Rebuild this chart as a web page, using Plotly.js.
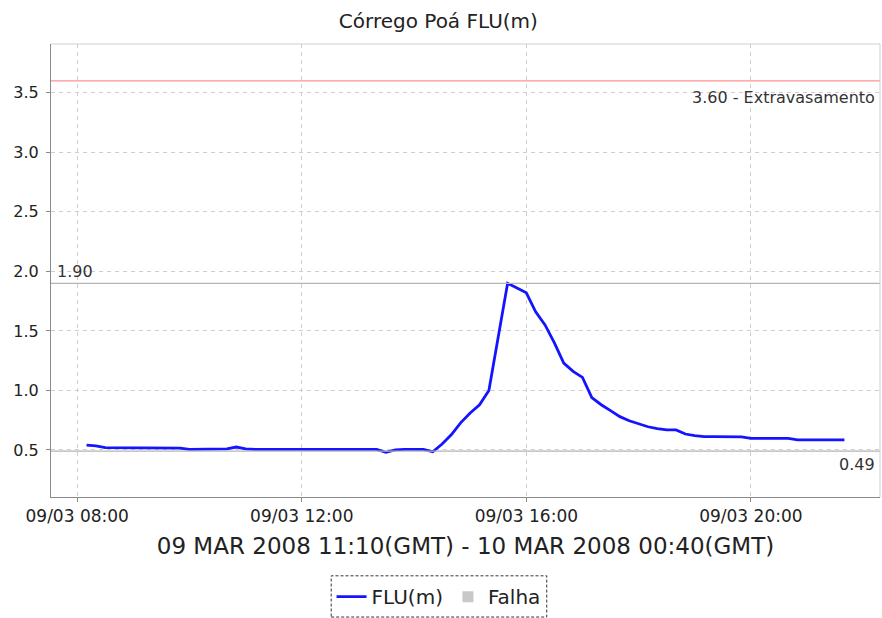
<!DOCTYPE html>
<html>
<head>
<meta charset="utf-8">
<script src="https://cdn.plot.ly/plotly-3.0.1.min.js"></script>
<style>html,body{margin:0;padding:0;background:#fff;}#chart{width:882px;height:618px;}</style>
</head>
<body>
<div id="chart"></div>
<script>
const times = [
"2008-03-09 08:10","2008-03-09 08:20","2008-03-09 08:30","2008-03-09 08:40","2008-03-09 08:50",
"2008-03-09 09:00","2008-03-09 09:10","2008-03-09 09:20","2008-03-09 09:30","2008-03-09 09:40","2008-03-09 09:50",
"2008-03-09 10:00","2008-03-09 10:10","2008-03-09 10:20","2008-03-09 10:30","2008-03-09 10:40","2008-03-09 10:50",
"2008-03-09 11:00","2008-03-09 11:10","2008-03-09 11:20","2008-03-09 11:30","2008-03-09 11:40","2008-03-09 11:50",
"2008-03-09 12:00","2008-03-09 12:10","2008-03-09 12:20","2008-03-09 12:30","2008-03-09 12:40","2008-03-09 12:50",
"2008-03-09 13:00","2008-03-09 13:10","2008-03-09 13:20","2008-03-09 13:30","2008-03-09 13:40","2008-03-09 13:50",
"2008-03-09 14:00","2008-03-09 14:10","2008-03-09 14:20","2008-03-09 14:30","2008-03-09 14:40","2008-03-09 14:50",
"2008-03-09 15:00","2008-03-09 15:10","2008-03-09 15:20","2008-03-09 15:30","2008-03-09 15:40","2008-03-09 15:50",
"2008-03-09 16:00","2008-03-09 16:10","2008-03-09 16:20","2008-03-09 16:30","2008-03-09 16:40","2008-03-09 16:50",
"2008-03-09 17:00","2008-03-09 17:10","2008-03-09 17:20","2008-03-09 17:30","2008-03-09 17:40","2008-03-09 17:50",
"2008-03-09 18:00","2008-03-09 18:10","2008-03-09 18:20","2008-03-09 18:30","2008-03-09 18:40","2008-03-09 18:50",
"2008-03-09 19:00","2008-03-09 19:10","2008-03-09 19:20","2008-03-09 19:30","2008-03-09 19:40","2008-03-09 19:50",
"2008-03-09 20:00","2008-03-09 20:10","2008-03-09 20:20","2008-03-09 20:30","2008-03-09 20:40","2008-03-09 20:50",
"2008-03-09 21:00","2008-03-09 21:10","2008-03-09 21:20","2008-03-09 21:30","2008-03-09 21:40"
];
const fluValues = [
0.54,0.535,0.52,0.52,0.52,
0.52,0.52,0.52,0.52,0.52,0.515,
0.505,0.505,0.505,0.505,0.51,0.525,
0.51,0.505,0.505,0.505,0.505,0.505,
0.505,0.505,0.505,0.505,0.505,0.505,
0.505,0.505,0.505,0.48,0.5,0.505,
0.505,0.505,0.485,0.55,0.63,0.73,
0.81,0.88,1.0,1.45,1.9,1.86,
1.82,1.66,1.55,1.40,1.23,1.16,
1.11,0.94,0.88,0.83,0.78,0.745,
0.72,0.695,0.68,0.668,0.668,0.634,
0.62,0.612,0.612,0.612,0.612,0.61,
0.598,0.598,0.598,0.598,0.598,0.585,
0.584,0.584,0.584,0.584,0.584
];
const seriesNames = ["FLU(m)", "Falha"];
const thresholds = [3.60, 1.90, 0.49];
const thresholdLabels = ["3.60 - Extravasamento", "1.90", "0.49"];
const yTicks = [0.5, 1.0, 1.5, 2.0, 2.5, 3.0, 3.5];
const yTickLabels = ["0.5", "1.0", "1.5", "2.0", "2.5", "3.0", "3.5"];
const chartTitle = "Córrego Poá FLU(m)";
const xAxisTitle = "09 MAR 2008 11:10(GMT) - 10 MAR 2008 00:40(GMT)";

const font = "DejaVu Sans, Arial, sans-serif";

const traces = [
  {
    x: times, y: fluValues, type: "scatter", mode: "lines", name: seriesNames[0],
    line: {color: "#1414ff", width: 2.8}
  },
  {
    x: [null], y: [null], type: "scatter", mode: "markers", name: seriesNames[1],
    marker: {symbol: "square", color: "#c8c8c8", size: 11}
  }
];

const layout = {
  width: 882, height: 618,
  margin: {l: 51, r: 2, t: 44, b: 121},
  paper_bgcolor: "#ffffff", plot_bgcolor: "#ffffff",
  font: {family: font, color: "#333", size: 13},
  title: {text: chartTitle, x: 0.497, xanchor: "center", y: 0.966, yanchor: "middle",
          font: {family: font, size: 20, color: "#222"}},
  xaxis: {
    type: "date",
    range: ["2008-03-09 07:32", "2008-03-09 22:18"],
    tick0: "2008-03-09 08:00", dtick: 14400000,
    tickformat: "%d/%m %H:%M",
    showgrid: true, gridcolor: "#cfcfcf", griddash: "4px,4px", gridwidth: 1,
    showline: true, linecolor: "#8a8a8a", linewidth: 1,
    ticks: "outside", ticklen: 4, tickcolor: "#8a8a8a",
    tickfont: {family: font, size: 17, color: "#222"},
    zeroline: false,
    title: {text: xAxisTitle, font: {family: font, size: 23, color: "#222"}, standoff: 12}
  },
  yaxis: {
    range: [0.105, 3.91],
    tickvals: yTicks, ticktext: yTickLabels,
    showgrid: true, gridcolor: "#cfcfcf", griddash: "4px,4px", gridwidth: 1,
    showline: true, linecolor: "#8a8a8a", linewidth: 1,
    ticks: "outside", ticklen: 4, tickcolor: "#8a8a8a",
    tickfont: {family: font, size: 16, color: "#222"},
    ticklabelstandoff: 4,
    zeroline: false
  },
  showlegend: true,
  legend: {
    orientation: "h", x: 0.4675, xanchor: "center", y: -0.22, yanchor: "middle",
    font: {family: font, size: 20, color: "#222"},
    bgcolor: "rgba(0,0,0,0)", itemwidth: 30, tracegroupgap: 0
  },
  shapes: [
    {type: "line", xref: "paper", x0: 0, x1: 1, yref: "y", y0: thresholds[0], y1: thresholds[0],
     line: {color: "#ff9090", width: 1.3}},
    {type: "line", xref: "paper", x0: 0, x1: 1, yref: "y", y0: thresholds[1], y1: thresholds[1],
     line: {color: "#b4b4b4", width: 1.3}},
    {type: "line", xref: "paper", x0: 0, x1: 1, yref: "y", y0: thresholds[2], y1: thresholds[2],
     line: {color: "#b4b4b4", width: 1.3}},
    {type: "line", xref: "paper", x0: 0, x1: 1, yref: "paper", y0: 1, y1: 1,
     line: {color: "#cfcfcf", width: 1}},
    {type: "line", xref: "paper", x0: 1, x1: 1, yref: "paper", y0: 0, y1: 1,
     line: {color: "#cfcfcf", width: 1}},
    {type: "rect", xref: "paper", x0: 0.338, x1: 0.598, yref: "paper", y0: -0.265, y1: -0.174,
     line: {color: "#333", width: 1, dash: "3px,2px"}}
  ],
  annotations: [
    {xref: "paper", x: 0.996, xanchor: "right", yref: "y", y: thresholds[0], yanchor: "top", yshift: -5,
     text: thresholdLabels[0], showarrow: false, font: {family: font, size: 16, color: "#333"}},
    {xref: "paper", x: 0.005, xanchor: "left", yref: "y", y: thresholds[1], yanchor: "bottom", yshift: 0,
     text: thresholdLabels[1], showarrow: false, font: {family: font, size: 16, color: "#333"}},
    {xref: "paper", x: 0.996, xanchor: "right", yref: "y", y: thresholds[2], yanchor: "top", yshift: -2,
     text: thresholdLabels[2], showarrow: false, font: {family: font, size: 16, color: "#333"}}
  ]
};

Plotly.newPlot("chart", traces, layout, {displayModeBar: false, staticPlot: true});
</script>
</body>
</html>
